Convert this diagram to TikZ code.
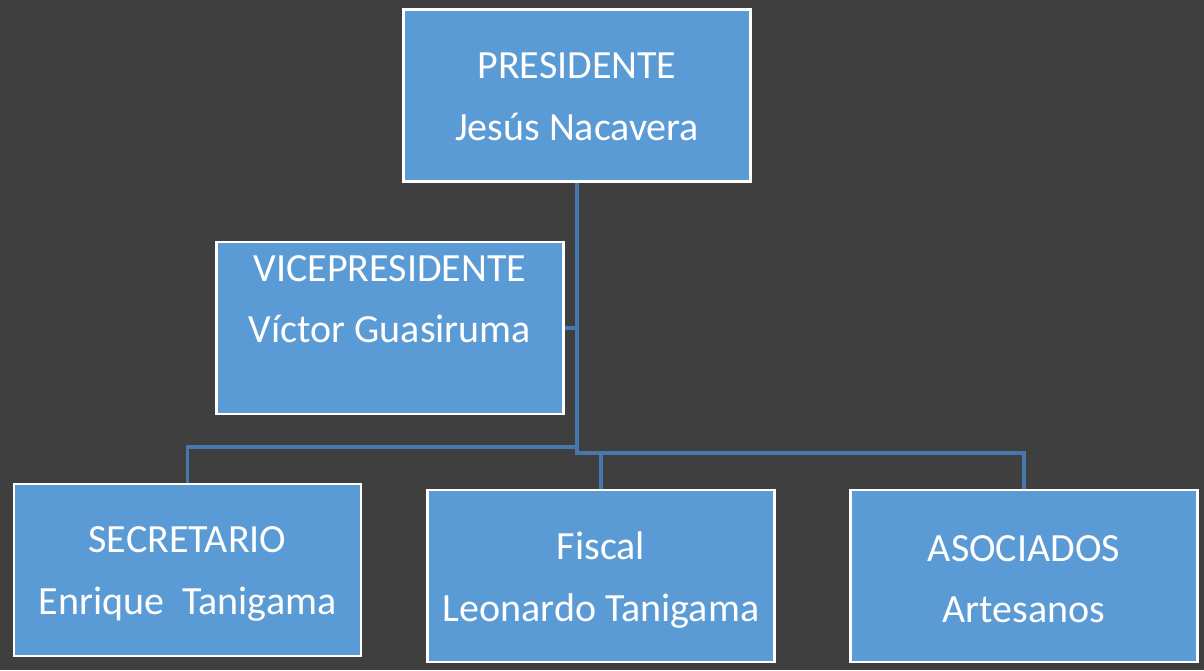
\documentclass[tikz,border=0pt]{standalone}
\usepackage{fontspec}
\setmainfont{Carlito}
\definecolor{bg}{HTML}{3F3F3F}
\definecolor{boxblue}{HTML}{5B9BD5}
\definecolor{connblue}{HTML}{4677AD}
\newcommand{\padtop}[2]{\raisebox{0pt}[\dimexpr\height+#1\relax]{#2}}
\newcommand{\padbot}[2]{\raisebox{0pt}[\height][\dimexpr\depth+#1\relax]{#2}}
\begin{document}
\begin{tikzpicture}[x=1pt,y=-1pt,
  box/.style={draw=white, line width=2.5pt, fill=boxblue, minimum width=347pt, minimum height=172pt,
    inner sep=0pt, align=center, text=white, font=\fontsize{40}{61.5}\selectfont},
  conn/.style={draw=connblue, line width=3.2pt}]
\fill[bg] (0,0) rectangle (1204,670);
\useasboundingbox (0,0) rectangle (1204,670);
\node[box] (pres) at (577,95.5) {\padtop{2pt}{PRESIDENTE}\\Jesús Nacavera};
\node[box] (vp) at (390,328) {VICEPRESIDENTE\\\padbot{58pt}{Víctor Guasiruma}};
\node[box] (sec) at (187.5,570) {\padtop{8pt}{SECRETARIO}\\Enrique\ \ Tanigama};
\node[box] (fis) at (601,576) {\padtop{8pt}{Fiscal}\\Leonardo Tanigama};
\node[box] (aso) at (1024,576) {\padtop{6pt}{ASOCIADOS}\\Artesanos};
\coordinate (trunk) at (577,453);
\coordinate (sj) at (577,447);
\draw[conn] (pres.south) -- (trunk) -- (trunk -| aso.north) -- (aso.north);
\draw[conn] (trunk -| fis.north) -- (fis.north);
\draw[conn] (vp.east) -- (vp.east -| trunk);
\draw[conn] (sj) -- (sj -| sec.north) -- (sec.north);
\end{tikzpicture}
\end{document}
